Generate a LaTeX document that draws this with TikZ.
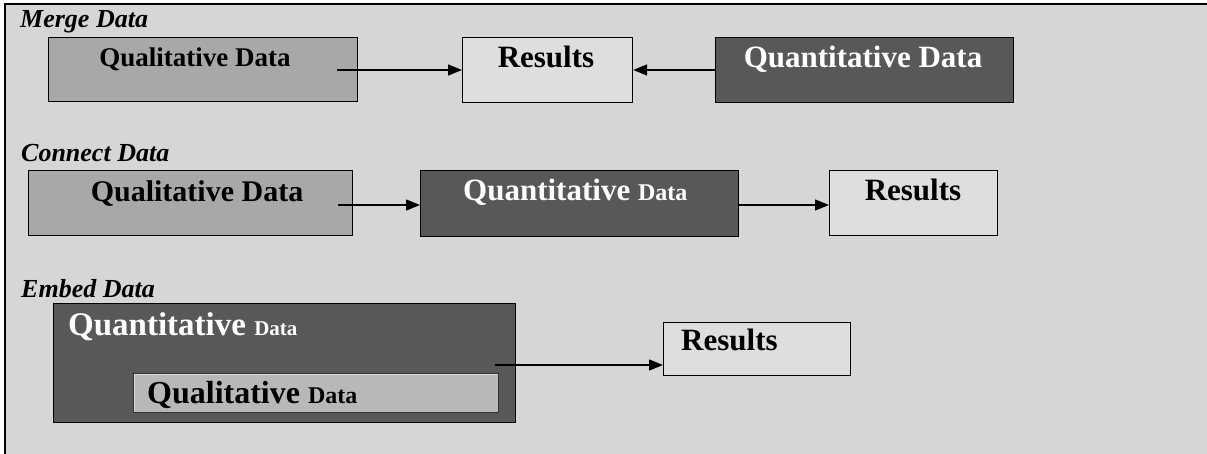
\documentclass[tikz,border=0pt]{standalone}
\usepackage{fontspec}
\setmainfont{Liberation Serif}
\usetikzlibrary{arrows.meta,calc}
\definecolor{bggray}{RGB}{214,214,214}
\definecolor{resgray}{RGB}{222,222,222}
\definecolor{qualgray}{RGB}{168,168,168}
\definecolor{qualinner}{RGB}{184,184,184}
\definecolor{quantgray}{RGB}{88,88,88}
\tikzset{
  boxbase/.style={draw=black, line width=1.2pt, rectangle, inner sep=0pt, anchor=north west},
  qualbox/.style={boxbase, fill=qualgray},
  qualinbox/.style={boxbase, fill=qualinner, draw=black!80},
  quantbox/.style={boxbase, fill=quantgray},
  resbox/.style={boxbase, fill=resgray},
  sectlabel/.style={anchor=base west, inner sep=0pt, font=\fontsize{26}{28}\selectfont\bfseries\itshape},
  boxtext/.style={anchor=base, inner sep=0pt, font=\bfseries},
  boxtextw/.style={anchor=base west, inner sep=0pt, font=\bfseries},
  conn/.style={draw=black, line width=1.4pt, -{Triangle[length=14pt,width=11pt]}},
}
\begin{document}
\begin{tikzpicture}[x=1pt,y=-1pt]
\useasboundingbox (0,0) rectangle (1207,454);
% paper frame
\fill[white] (0,0) rectangle (1207,454);
\filldraw[fill=bggray, draw=black, line width=1.3pt] (5,4) rectangle (1215,462);

% section labels
\node[sectlabel] (lmerge) at (20,28) {Merge Data};
\node[sectlabel] (lconnect) at (21,162) {Connect Data};
\node[sectlabel] (lembed) at (21,298) {Embed Data};

% ---- Merge row
\node[qualbox, minimum width=309pt, minimum height=64pt] (qual1) at (48,37) {};
\node[resbox, minimum width=170pt, minimum height=65pt] (res1) at (462,37) {};
\node[quantbox, minimum width=298pt, minimum height=65pt] (quant1) at (715,37) {};
\node[boxtext, font=\fontsize{27}{30}\selectfont\bfseries] (tqual1) at (195,67) {Qualitative Data};
\node[boxtext, font=\fontsize{31}{34}\selectfont\bfseries] (tres1) at (546,68) {Results};
\node[boxtext, text=white, font=\fontsize{31}{34}\selectfont\bfseries] (tquant1) at (863,68) {Quantitative Data};
\coordinate (a1s) at (337,70);
\draw[conn] (a1s) -- (a1s -| res1.west);
\draw[conn] (a1s -| quant1.west) -- (a1s -| res1.east);

% ---- Connect row
\node[qualbox, minimum width=324pt, minimum height=65pt] (qual2) at (28,170) {};
\node[quantbox, minimum width=318pt, minimum height=66pt] (quant2) at (420,170) {};
\node[resbox, minimum width=168pt, minimum height=65pt] (res2) at (829,170) {};
\node[boxtext, font=\fontsize{30}{33}\selectfont\bfseries] (tqual2) at (197,202) {Qualitative Data};
\node[boxtextw, text=white] (tquant2) at (463,201) {\fontsize{31}{34}\selectfont Quantitative \fontsize{24}{26}\selectfont Data};
\node[boxtext, font=\fontsize{31}{34}\selectfont\bfseries] (tres2) at (913,201) {Results};
\coordinate (a2s) at (338,205);
\draw[conn] (a2s) -- (a2s -| quant2.west);
\coordinate (a2t) at (738,205);
\draw[conn] (a2t) -- (a2t -| res2.west);

% ---- Embed row
\node[quantbox, minimum width=462pt, minimum height=119pt] (quant3) at (53,303) {};
\node[qualinbox, minimum width=365pt, minimum height=39pt] (qual3) at (133,373) {};
\draw[white!85!black, line width=1pt] ([shift={(1.5,-1.5)}]qual3.south west) -- ([shift={(1.5,1.5)}]qual3.north west) -- ([shift={(-1.5,1.5)}]qual3.north east);
\node[resbox, minimum width=187pt, minimum height=53pt] (res3) at (663,322) {};
\node[boxtextw, text=white] (tquant3) at (68,335) {\fontsize{33}{36}\selectfont Quantitative \fontsize{21}{24}\selectfont Data};
\node[boxtextw] (tqual3) at (147,403) {\fontsize{32}{35}\selectfont Qualitative \fontsize{24}{26}\selectfont Data};
\node[boxtextw, font=\fontsize{31}{34}\selectfont\bfseries] (tres3) at (681,350) {Results};
\coordinate (a3s) at (495,365);
\draw[conn] (a3s) -- (a3s -| res3.west);
\end{tikzpicture}
\end{document}
